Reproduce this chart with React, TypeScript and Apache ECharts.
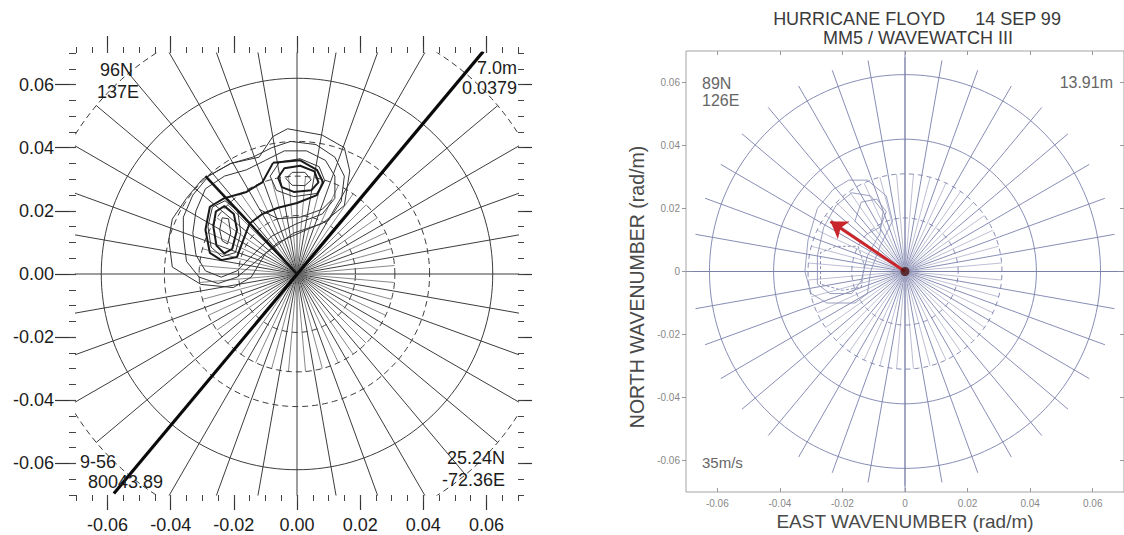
import React, { useEffect, useRef } from "react";
import * as echarts from "echarts";

// ---------- axis / tick data ----------
const AX_MIN = -0.07;
const AX_MAX = 0.07;
const majorTicks = [-0.06, -0.04, -0.02, 0, 0.02, 0.04, 0.06];
const minorTicks = [
  -0.07, -0.065, -0.06, -0.055, -0.05, -0.045, -0.04, -0.035, -0.03, -0.025, -0.02, -0.015,
  -0.01, -0.005, 0, 0.005, 0.01, 0.015, 0.02, 0.025, 0.03, 0.035, 0.04, 0.045, 0.05, 0.055,
  0.06, 0.065, 0.07,
];

// ---------- polar spectral grid ----------
const spokeAnglesDeg = Array.from({ length: 36 }, (_, i) => i * 10);
const innerSpokeAnglesDeg = Array.from({ length: 36 }, (_, i) => i * 10 + 5);
const leftRings = [
  { r: 0.0185, dashed: true },
  { r: 0.031, dashed: true },
  { r: 0.042, dashed: true },
  { r: 0.062, dashed: false },
  { r: 0.083, dashed: true },
];
const leftSpokeR = 0.083;
const leftInnerSpokeR = 0.031;
const rightRings = [
  { r: 0.017, dashed: true },
  { r: 0.031, dashed: true },
  { r: 0.042, dashed: false },
  { r: 0.0625, dashed: false },
];
const rightSpokeR = 0.068;
const rightInnerSpokeR = 0.031;

// ---------- left panel marks ----------
const peakDirLine = [[-0.058, -0.0695], [0.059, 0.0705]];
const meanDirLine = [[0, 0], [-0.029, 0.031]];

const leftContourThin1 = [
  [-0.0406, 0.0109], [-0.0395, 0.0022], [-0.0304, -0.0033], [-0.0202, -0.0043], [-0.0145, -0.001],
  [-0.01, 0.0065], [-0.001, 0.013], [0.008, 0.016], [0.015, 0.0217], [0.0167, 0.0326],
  [0.015, 0.04], [0.008, 0.044], [-0.003, 0.046], [-0.0077, 0.0435], [-0.012, 0.037],
  [-0.021, 0.035], [-0.03, 0.03], [-0.035, 0.024], [-0.0395, 0.0174], [-0.0406, 0.0109],
];
const leftContourThin2 = [
  [-0.036, 0.012], [-0.035, 0.004], [-0.031, -0.001], [-0.025, -0.003], [-0.019, -0.001],
  [-0.013, 0.004], [-0.006, 0.01], [0.003, 0.014], [0.01, 0.017], [0.014, 0.023],
  [0.015, 0.031], [0.012, 0.037], [0.006, 0.041], [-0.002, 0.042], [-0.008, 0.04],
  [-0.014, 0.037], [-0.021, 0.035], [-0.028, 0.031], [-0.033, 0.025], [-0.036, 0.018], [-0.036, 0.012],
];
const leftContourThin3 = [
  [-0.033, 0.013], [-0.032, 0.006], [-0.029, 0.001], [-0.024, -0.001], [-0.019, 0.001],
  [-0.014, 0.006], [-0.008, 0.012], [0.0, 0.016], [0.008, 0.019], [0.012, 0.024],
  [0.012, 0.031], [0.009, 0.036], [0.003, 0.039], [-0.004, 0.039], [-0.01, 0.036],
  [-0.016, 0.033], [-0.023, 0.031], [-0.029, 0.027], [-0.032, 0.02], [-0.033, 0.013],
];
const leftContourBold = [
  [-0.0076, 0.0352], [0.001, 0.036], [0.0063, 0.033], [0.0083, 0.029], [0.0063, 0.025],
  [0.0, 0.0225], [-0.006, 0.021], [-0.011, 0.019], [-0.015, 0.016], [-0.017, 0.0108],
  [-0.019, 0.0054], [-0.024, 0.0044], [-0.0276, 0.0067], [-0.029, 0.014], [-0.0276, 0.0213],
  [-0.023, 0.024], [-0.016, 0.026], [-0.011, 0.029], [-0.0076, 0.0352],
];
const leftLobeC = [
  [-0.0282, 0.015], [-0.0272, 0.0085], [-0.0238, 0.0055], [-0.0195, 0.0068], [-0.0178, 0.013],
  [-0.0188, 0.02], [-0.0228, 0.0232], [-0.0268, 0.0212], [-0.0282, 0.015],
];
const leftLobeA = [
  [-0.0265, 0.015], [-0.0255, 0.009], [-0.023, 0.0065], [-0.0205, 0.008], [-0.019, 0.014],
  [-0.02, 0.019], [-0.023, 0.0215], [-0.0257, 0.0198], [-0.0265, 0.015],
];
const leftLobeB = [
  [-0.0245, 0.014], [-0.0237, 0.0105], [-0.022, 0.0095], [-0.021, 0.013], [-0.0217, 0.0175],
  [-0.0237, 0.0178], [-0.0245, 0.014],
];
const upperLobeC = [
  [-0.0085, 0.031], [-0.0055, 0.0355], [0.001, 0.0365], [0.007, 0.034], [0.0088, 0.0295],
  [0.0062, 0.0255], [-0.001, 0.0245], [-0.0065, 0.0265], [-0.0085, 0.031],
];
const upperLobeA = [
  [-0.006, 0.0305], [-0.004, 0.0335], [0.001, 0.0343], [0.0055, 0.0325], [0.0068, 0.029],
  [0.0045, 0.0265], [-0.001, 0.026], [-0.0048, 0.0275], [-0.006, 0.0305],
];
const upperLobeB = [
  [-0.0035, 0.0302], [-0.0015, 0.0322], [0.0025, 0.0322], [0.0045, 0.0298], [0.0025, 0.028],
  [-0.0015, 0.0281], [-0.0035, 0.0302],
];
const shelfContour = [
  [-0.012, 0.0205], [-0.006, 0.0175], [0.001, 0.018], [0.008, 0.0205], [0.011, 0.0235],
];

// ---------- right panel marks ----------
const windArrow = [[0, 0], [-0.0238, 0.0159]];
const rightContour1 = [
  [-0.023, 0.026], [-0.028, 0.02], [-0.031, 0.01], [-0.032, 0.0], [-0.03, -0.007], [-0.025, -0.01],
  [-0.016, -0.01], [-0.012, -0.007], [-0.011, 0.0], [-0.008, 0.008], [-0.004, 0.016],
  [-0.006, 0.024], [-0.012, 0.029], [-0.018, 0.029], [-0.023, 0.026],
];
const rightContour2 = [
  [-0.022, 0.021], [-0.026, 0.014], [-0.028, 0.005], [-0.028, -0.004], [-0.024, -0.007],
  [-0.017, -0.007], [-0.014, -0.003], [-0.012, 0.005], [-0.008, 0.012], [-0.007, 0.019],
  [-0.011, 0.024], [-0.017, 0.025], [-0.022, 0.021],
];
const rightContour3 = [
  [-0.027, -0.004], [-0.027, 0.006], [-0.022, 0.008], [-0.015, 0.008], [-0.013, 0.002],
  [-0.014, -0.005], [-0.02, -0.006], [-0.027, -0.004],
];
const rightContour4 = [
  [-0.016, 0.016], [-0.014, 0.022], [-0.009, 0.023], [-0.006, 0.019], [-0.008, 0.014],
  [-0.012, 0.012], [-0.016, 0.016],
];

// ---------- helpers ----------
const ringPts = (r: number, n = 180) => {
  const pts: number[][] = [];
  for (let i = 0; i <= n; i++) {
    const t = (i / n) * Math.PI * 2;
    pts.push([r * Math.cos(t), r * Math.sin(t)]);
  }
  return pts;
};
const spokePts = (deg: number, r0: number, r1: number) => {
  const t = (deg * Math.PI) / 180;
  return [
    [r0 * Math.cos(t), r0 * Math.sin(t)],
    [r1 * Math.cos(t), r1 * Math.sin(t)],
  ];
};
const poly = (data: number[][], panel: number, color: string, width: number, type: any = "solid", z = 2) => ({
  type: "line",
  xAxisIndex: panel === 0 ? 0 : 4,
  yAxisIndex: panel === 0 ? 0 : 4,
  data,
  showSymbol: false,
  symbol: "none",
  silent: true,
  clip: true,
  z,
  lineStyle: { color, width, type },
});

const FONT = "Liberation Sans";
const baseAxis = (gridIndex: number, position: string) => ({
  type: "value",
  gridIndex,
  position,
  min: AX_MIN,
  max: AX_MAX,
  axisLine: { show: false, onZero: false },
  splitLine: { show: false },
  axisTick: { show: false },
  axisLabel: { show: false },
});
const tickAxis = (gridIndex: number, position: string, values: number[], length: number, color: string, inside = false, width = 1) => ({
  ...baseAxis(gridIndex, position),
  axisTick: { show: true, inside, length, customValues: values, lineStyle: { color, width } },
});
const leftFmt = (v: number) => v.toFixed(2);
const rightFmt = (v: number) => (Math.abs(v) < 1e-9 ? "0" : v.toFixed(2));

function buildOption() {
  const series: any[] = [];
  const L = "#3c3c3c";
  // left grid
  spokeAnglesDeg.forEach((a) => series.push(poly(spokePts(a, 0, leftSpokeR), 0, L, 1)));
  innerSpokeAnglesDeg.forEach((a) => series.push(poly(spokePts(a, 0, leftInnerSpokeR), 0, "#6a6a6a", 0.8)));
  leftRings.forEach((g) => series.push(poly(ringPts(g.r), 0, L, 1, g.dashed ? [6, 4] : "solid")));
  // left contours
  [leftContourThin1, leftContourThin2, leftContourThin3, shelfContour, leftLobeC, upperLobeC].forEach((c) =>
    series.push(poly(c, 0, "#333", 1, "solid", 3))
  );
  [leftContourBold, leftLobeA, upperLobeA].forEach((c) => series.push(poly(c, 0, "#1a1a1a", 2, "solid", 3)));
  [leftLobeB, upperLobeB].forEach((c) => series.push(poly(c, 0, "#333", 1, "solid", 3)));
  series.push(poly(peakDirLine, 0, "#0a0a0a", 3.2, "solid", 5));
  series.push(poly(meanDirLine, 0, "#151515", 2.6, "solid", 5));

  // right grid
  const B = "#7b80ad";
  series.push(poly([[AX_MIN, 0], [AX_MAX, 0]], 1, "#8a8ea8", 1));
  series.push(poly([[0, AX_MIN], [0, AX_MAX]], 1, "#8a8ea8", 1));
  spokeAnglesDeg.forEach((a) => series.push(poly(spokePts(a, 0, rightSpokeR), 1, B, 0.9)));
  innerSpokeAnglesDeg.forEach((a) => series.push(poly(spokePts(a, 0, rightInnerSpokeR), 1, "#a0a4c0", 0.7)));
  rightRings.forEach((g) => series.push(poly(ringPts(g.r), 1, B, 0.9, g.dashed ? [5, 4] : "solid")));
  [rightContour1, rightContour2, rightContour4].forEach((c) => series.push(poly(c, 1, "#8f94b8", 0.9, "solid", 3)));
  series.push(poly(rightContour3, 1, "#7f84ac", 0.9, [3, 2], 3));
  series.push({
    type: "lines",
    coordinateSystem: "cartesian2d",
    xAxisIndex: 4,
    yAxisIndex: 4,
    data: [{ coords: windArrow }],
    symbol: ["none", "arrow"],
    symbolSize: [12, 16],
    silent: true,
    z: 10,
    lineStyle: { color: "#c8262a", width: 3, opacity: 1 },
  });
  series.push({
    type: "scatter",
    xAxisIndex: 4,
    yAxisIndex: 4,
    data: [[0, 0]],
    symbolSize: 9,
    silent: true,
    z: 11,
    itemStyle: { color: "#4a1010" },
  });

  const leftText = "#1c1c1c";
  const rText = "#666";
  const txt = (text: string, x: number, y: number, size: number, fill: string, align = "left", extra: any = {}) => ({
    type: "text",
    x,
    y,
    silent: true,
    z: 20,
    ...extra,
    style: { text, fill, fontSize: size, fontFamily: FONT, textAlign: align, textVerticalAlign: "middle" },
  });

  return {
    animation: false,
    backgroundColor: "#ffffff",
    grid: [
      { left: 76, top: 53, width: 442, height: 442 },
      { left: 686, top: 51, width: 438, height: 441, show: true, borderColor: "#a3a3a3", borderWidth: 1, backgroundColor: "transparent" },
    ],
    xAxis: [
      {
        ...tickAxis(0, "bottom", majorTicks, 15, "#333", false, 1.2),
        axisLabel: { show: true, customValues: majorTicks, formatter: leftFmt, margin: 21, fontSize: 18, color: leftText, fontFamily: FONT },
      },
      tickAxis(0, "bottom", minorTicks, 6, "#444"),
      tickAxis(0, "top", majorTicks, 17, "#333", false, 1.2),
      tickAxis(0, "top", minorTicks, 6, "#444"),
      {
        ...tickAxis(1, "bottom", majorTicks, 4, "#999", true),
        axisLabel: { show: true, customValues: majorTicks, formatter: rightFmt, margin: 6, fontSize: 10, color: "#888", fontFamily: FONT },
      },
      tickAxis(1, "top", majorTicks, 4, "#999", true),
    ],
    yAxis: [
      {
        ...tickAxis(0, "left", majorTicks, 21, "#333", false, 1.2),
        axisLabel: { show: true, customValues: majorTicks, formatter: leftFmt, margin: 22, fontSize: 18, color: leftText, fontFamily: FONT },
      },
      tickAxis(0, "left", minorTicks, 7, "#444"),
      tickAxis(0, "right", majorTicks, 14, "#333", false, 1.2),
      tickAxis(0, "right", minorTicks, 6, "#444"),
      {
        ...tickAxis(1, "left", majorTicks, 4, "#999", false),
        axisLabel: { show: true, customValues: majorTicks, formatter: rightFmt, margin: 6, fontSize: 10, color: "#888", fontFamily: FONT },
      },
      tickAxis(1, "right", majorTicks, 4, "#999", true),
    ],
    series,
    graphic: [
      txt("96N", 100, 70, 18, leftText),
      txt("137E", 97, 92, 18, leftText),
      txt("7.0m", 517, 68, 18, leftText, "right"),
      txt("0.0379", 517, 88, 18, leftText, "right"),
      txt("9-56", 80, 462, 18, leftText),
      txt("80043.89", 88, 482, 18, leftText),
      txt("25.24N", 505, 458, 18, leftText, "right"),
      txt("-72.36E", 505, 480, 18, leftText, "right"),
      txt("HURRICANE FLOYD      14 SEP 99", 917, 19, 18, "#3a3a3a", "center"),
      txt("MM5 / WAVEWATCH III", 918, 38, 18, "#3a3a3a", "center"),
      txt("89N", 702, 83, 16, rText),
      txt("126E", 702, 100, 16, rText),
      txt("13.91m", 1113, 82, 16, rText, "right"),
      txt("35m/s", 702, 462, 15, rText),
      txt("EAST WAVENUMBER (rad/m)", 905, 521, 19, "#4a4a4a", "center"),
      txt("NORTH WAVENUMBER (rad/m)", 637, 287, 19.5, "#4a4a4a", "center", { rotation: Math.PI / 2 }),
    ],
  };
}

export default function App() {
  const ref = useRef<HTMLDivElement>(null);
  useEffect(() => {
    if (!ref.current) return;
    const chart = echarts.init(ref.current, null, { renderer: "svg" });
    chart.setOption(buildOption() as any);
    return () => chart.dispose();
  }, []);
  return (
    <div
      ref={ref}
      style={{ position: "fixed", left: 0, top: 0, width: 1124, height: 535, background: "#fff" }}
    />
  );
}
